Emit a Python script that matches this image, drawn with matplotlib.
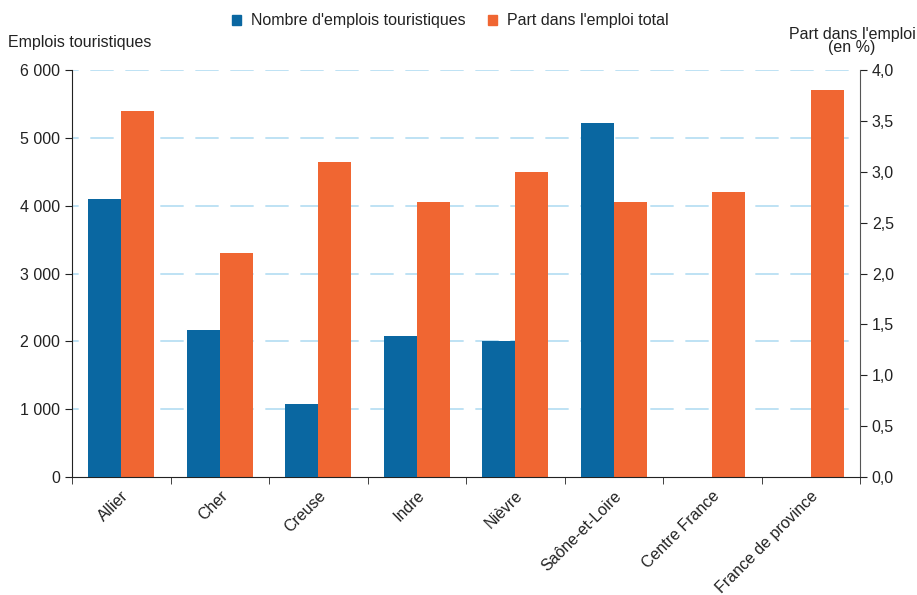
import matplotlib
matplotlib.use("Agg")
import matplotlib.pyplot as plt
import numpy as np
from matplotlib.ticker import FuncFormatter, FixedLocator
from matplotlib.patches import Patch

plt.rcParams['font.family'] = ['Liberation Sans', 'DejaVu Sans']

categories = ["Allier", "Cher", "Creuse", "Indre", "Nièvre", "Saône-et-Loire",
              "Centre France", "France de province"]
emplois = [4100, 2170, 1080, 2080, 2000, 5220, np.nan, np.nan]
part = [3.6, 2.2, 3.1, 2.7, 3.0, 2.7, 2.8, 3.8]

blue = "#0A67A1"
orange = "#F06632"
grid_c = "#B3DDF2"
text_c = "#222222"
fs = 11.5

fig = plt.figure(figsize=(9.17, 5.95), dpi=100)
ax = fig.add_axes([72/917, 1-477/595, (860-72)/917, (477-70)/595])
ax2 = ax.twinx()

x = np.arange(len(categories))
w = 0.335
ax.bar(x - w/2, np.nan_to_num(emplois, nan=0.0), width=w, color=blue, zorder=3)
ax2.bar(x + w/2, part, width=w, color=orange, zorder=3)

ax.set_xlim(-0.5, len(categories) - 0.5)
ax.set_ylim(0, 6000)
ax2.set_ylim(0, 4.0)

ax.set_yticks(np.arange(0, 6001, 1000))
ax.yaxis.set_major_formatter(FuncFormatter(lambda v, p: f"{int(v):,}".replace(",", " ")))
ax2.set_yticks(np.arange(0, 4.01, 0.5))
ax2.yaxis.set_major_formatter(FuncFormatter(lambda v, p: f"{v:.1f}".replace(".", ",")))

# gridlines at left-axis ticks, drawn on the lower axes so bars cover them
for yv in np.arange(1000, 6001, 1000):
    ax2.axhline(yv * 4.0 / 6000, color=grid_c, lw=1.2, ls=(10, (14, 7)), zorder=1)

ax.set_xticks(x)
ax.set_xticklabels(categories, rotation=45, ha='right', rotation_mode='anchor',
                   fontsize=fs, color=text_c)
ax.tick_params(axis='x', which='major', length=0, pad=8)
ax.xaxis.set_minor_locator(FixedLocator(np.arange(-0.5, len(categories), 1)))
ax.tick_params(axis='x', which='minor', length=5, direction='out', color=text_c)

ax.tick_params(axis='y', labelsize=fs, colors=text_c, length=5, direction='out')
ax2.tick_params(axis='y', labelsize=fs, colors=text_c, length=5, direction='out')

for a in (ax, ax2):
    a.spines['top'].set_visible(False)
ax2.spines['left'].set_visible(False)
ax.spines['right'].set_visible(False)
ax2.spines['bottom'].set_visible(False)
ax.spines['left'].set_color(text_c)
ax.spines['bottom'].set_color(text_c)
ax2.spines['right'].set_color("#555555")

ax.set_zorder(ax2.get_zorder() + 1)
ax.patch.set_visible(False)

fig.text(8/917, 1-43/595, "Emplois touristiques", fontsize=fs, color=text_c,
         ha='left', va='center')
fig.text(852/917, 1-41/595, "Part dans l'emploi\n(en %)", fontsize=fs, color=text_c,
         ha='center', va='center', linespacing=0.85)

handles = [Patch(color=blue, label="Nombre d'emplois touristiques"),
           Patch(color=orange, label="Part dans l'emploi total")]
fig.legend(handles=handles, loc='center', bbox_to_anchor=(450/917, 1-21/595), ncol=2,
           frameon=False, fontsize=fs, handlelength=0.6, handleheight=0.6,
           handletextpad=0.6, columnspacing=1.4, labelcolor=text_c)

fig.savefig("out.png", dpi=100)
